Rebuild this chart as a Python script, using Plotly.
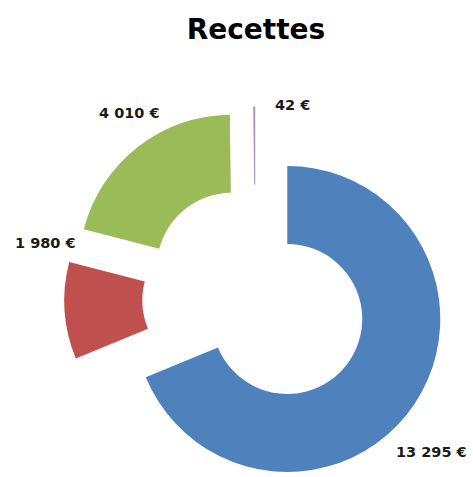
import math
import plotly.graph_objects as go

labels = ["Subventions", "Cotisations", "Dons", "Intérêts"]
values = [13295, 1980, 4010, 42]
colors = ["#4F81BD", "#C0504D", "#9BBB59", "#A697C6"]
title_text = "Recettes"

texts = [f"{v:,}".replace(",", "\u00a0") + "\u00a0€" for v in values]

# layout geometry (pixels)
W, H = 473, 477
CX, CY = 255.5, 297.7     # centre of the un-exploded doughnut (from top)
R = 153                   # outer radius
EXPLODE = 0.25            # fraction of radius each slice is pulled out
HOLE = 0.49
# label anchor positions (left edge x, middle y), pixels from top-left
label_pos = [(394, 452), (13, 243), (97, 113), (273, 105)]

total = sum(values)
fig = go.Figure()
start = 0.0
for i, v in enumerate(values):
    frac = v / total
    mid = (start + frac / 2) * 2 * math.pi  # clockwise from 12 o'clock
    start += frac
    cx = CX + EXPLODE * R * math.sin(mid)
    cy = CY - EXPLODE * R * math.cos(mid)
    cols = ["rgba(0,0,0,0)"] * len(values)
    cols[i] = colors[i]
    fig.add_trace(go.Pie(
        labels=labels,
        values=values,
        textinfo="none",
        hole=HOLE,
        sort=False,
        direction="clockwise",
        rotation=0,
        marker=dict(colors=cols, line=dict(width=0)),
        domain=dict(x=[(cx - R) / W, (cx + R) / W],
                    y=[(H - cy - R) / H, (H - cy + R) / H]),
        showlegend=False,
        hoverinfo="skip",
    ))

for t, (x, y) in zip(texts, label_pos):
    fig.add_annotation(text="<b>" + t + "</b>", x=x / W, y=1 - y / H,
                       xref="paper", yref="paper", xanchor="left", yanchor="middle",
                       showarrow=False,
                       font=dict(family="DejaVu Sans", size=14.5, color="#1a1a1a"))

fig.update_layout(
    width=W, height=H,
    margin=dict(l=0, r=0, t=0, b=0),
    paper_bgcolor="white",
    title=dict(text="<b>" + title_text + "</b>", x=256 / W, xanchor="center",
               y=1 - 29 / H, yanchor="middle",
               font=dict(family="DejaVu Sans", size=28, color="#000000")),
)
fig.write_html("out.html")
